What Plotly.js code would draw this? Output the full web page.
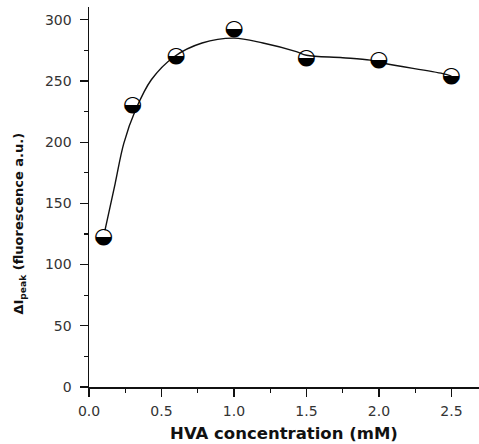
<!DOCTYPE html>
<html>
<head>
<meta charset="utf-8">
<script src="https://cdn.plot.ly/plotly-3.0.1.min.js"></script>
<style>html,body{margin:0;padding:0;background:#fff;}#chart{width:479px;height:444px;}</style>
</head>
<body>
<div id="chart"></div>
<script>
// Measured points
var concentration = [0.1, 0.3, 0.6, 1.0, 1.5, 2.0, 2.5];
var deltaIpeak = [122, 230, 270, 292, 268, 267, 254];
// Fitted curve
var curveX = [0.11, 0.18, 0.24, 0.32, 0.43, 0.59, 0.78, 1.0, 1.2, 1.43, 1.5, 1.75, 1.94, 2.05, 2.44, 2.5];
var curveY = [128, 166, 199, 226, 251, 270, 281, 285, 281, 274, 271, 269, 267, 264, 256, 254];
// Ticks
var xTicks = [0.0, 0.5, 1.0, 1.5, 2.0, 2.5];
var xTickLabels = ['0.0', '0.5', '1.0', '1.5', '2.0', '2.5'];
var yTicks = [0, 50, 100, 150, 200, 250, 300];
var yTickLabels = ['0', '50', '100', '150', '200', '250', '300'];
var xTitle = 'HVA concentration (mM)';
var yTitle = '\u0394I<sub>peak</sub> (fluorescence a.u.)';

var markerGlyph = concentration.map(function(){ return '\u25D2'; });

var traces = [
  {x: curveX, y: curveY, mode: 'lines', line: {color: '#111', width: 1.4, shape: 'spline', smoothing: 1}, hoverinfo: 'skip'},
  {x: concentration, y: deltaIpeak, mode: 'text', text: markerGlyph, textposition: 'middle center',
   textfont: {family: 'DejaVu Sans', size: 22, color: '#000'}}
];

var tickFont = {family: 'DejaVu Sans, sans-serif', size: 14, color: '#333'};
var titleFont = {family: 'DejaVu Sans, sans-serif', size: 16.5, color: '#111', weight: 'bold'};

var layout = {
  width: 479, height: 444,
  margin: {l: 89, r: 0, t: 7, b: 57, pad: 0},
  paper_bgcolor: '#fff', plot_bgcolor: '#fff',
  showlegend: false,
  xaxis: {
    range: [0, 2.69], showgrid: false, zeroline: false,
    showline: true, linecolor: '#111', linewidth: 1.5,
    ticks: 'outside', ticklen: 8, tickwidth: 1.3, tickcolor: '#111',
    tickmode: 'array', tickvals: xTicks, ticktext: xTickLabels,
    minor: {tickvals: [0.25, 0.75, 1.25, 1.75, 2.25], ticks: 'outside', ticklen: 4, tickwidth: 1.2, tickcolor: '#111', showgrid: false},
    tickfont: tickFont, ticklabelstandoff: 3,
    title: {text: xTitle, font: titleFont, standoff: 9}
  },
  yaxis: {
    range: [0, 310.4], showgrid: false, zeroline: false,
    showline: true, linecolor: '#111', linewidth: 1.5,
    ticks: 'outside', ticklen: 8, tickwidth: 1.3, tickcolor: '#111',
    tickmode: 'array', tickvals: yTicks, ticktext: yTickLabels,
    minor: {tickvals: [25, 75, 125, 175, 225, 275], ticks: 'outside', ticklen: 4, tickwidth: 1.2, tickcolor: '#111', showgrid: false},
    tickfont: tickFont, ticklabelstandoff: 5
  },
  annotations: [{
    text: yTitle, xref: 'paper', yref: 'paper', x: -0.177, y: 0.43,
    xanchor: 'center', yanchor: 'middle', textangle: -90, showarrow: false,
    font: {family: 'DejaVu Sans, sans-serif', size: 13, color: '#111', weight: 'bold'}
  }]
};

Plotly.newPlot('chart', traces, layout, {displayModeBar: false, staticPlot: true});
</script>
</body>
</html>
